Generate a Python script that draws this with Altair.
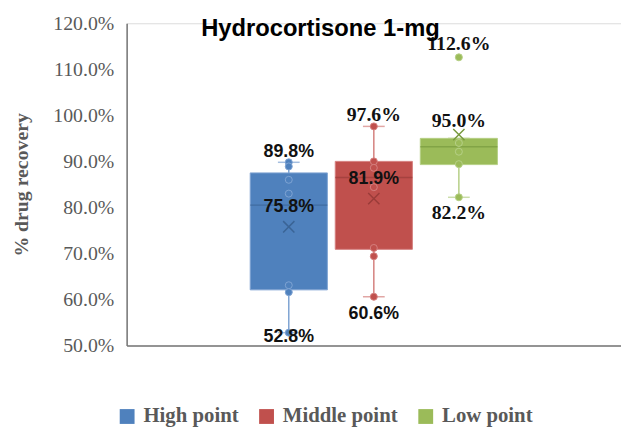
import altair as alt
import pandas as pd

# ---------------- data ----------------
groups = ["High point", "Middle point", "Low point"]
colors = ["#4F81BD", "#C0504D", "#9BBB59"]
dark_colors = ["#3A6496", "#9A3C39", "#789A3E"]
light_colors = ["#7EA3D2", "#D4807E", "#B5CF86"]

whisker_lo = [52.8, 60.6, 82.2]
q1 = [62.1, 70.9, 89.3]
median = [80.5, 86.5, 93.2]
q3 = [87.5, 90.0, 95.0]
whisker_hi = [89.8, 97.6, 95.0]
mean = [75.8, 81.9, 95.8]

high_points = [89.8, 88.9, 86.0, 83.0, 63.1, 61.6, 52.8]
middle_points = [97.6, 90.0, 88.6, 84.4, 71.2, 69.4, 60.6]
low_points = [112.6, 94.0, 92.1, 89.4, 82.2]

label_group = ["High point"] * 3 + ["Middle point"] * 3 + ["Low point"] * 3
label_text = ["89.8%", "75.8%", "52.8%", "97.6%", "81.9%", "60.6%", "112.6%", "95.0%", "82.2%"]
label_anchor = [whisker_hi[0], median[0], whisker_lo[0],
                whisker_hi[1], median[1], whisker_lo[1],
                low_points[0], q3[2], whisker_lo[2]]
label_dy = [-10, 2, 4, -11, 2, 18, -13, -17, 16]
label_serif = [False, False, False, True, False, False, True, True, True]

title_text = "Hydrocortisone 1-mg"
y_ticks = [50, 60, 70, 80, 90, 100, 110, 120]

stats = pd.DataFrame({"group": groups, "lo": whisker_lo, "q1": q1, "med": median,
                      "q3": q3, "hi": whisker_hi, "mean": mean})
points = pd.DataFrame({
    "group": ["High point"] * len(high_points) + ["Middle point"] * len(middle_points)
             + ["Low point"] * len(low_points),
    "value": high_points + middle_points + low_points,
})
labels = pd.DataFrame({"idx": list(range(len(label_text))), "group": label_group,
                       "text": label_text, "anchor": label_anchor})

# ---------------- scales / axes ----------------
AX_COLOR = "#767676"
# empty slots on either side so the category group sits in the middle of the plot
x_domain = ["_left"] + groups + ["_right"]
x_scale = alt.Scale(domain=x_domain, type="band", paddingInner=0.093, paddingOuter=0.453)
x_axis = alt.Axis(labels=False, ticks=False, title=None, grid=False,
                  domainColor=AX_COLOR, domainWidth=1.5)
y_scale = alt.Scale(domain=[50, 120], nice=False, zero=False)
y_axis = alt.Axis(values=y_ticks, labelExpr="format(datum.value, '.1f') + '%'",
                  title="% drug recovery", titleFont="Liberation Serif", titleFontSize=20,
                  titleFontWeight="bold", titleColor="#595959", titleX=-106, titleY=163,
                  titleAngle=270, titleAlign="center", titleBaseline="middle",
                  labelFont="Liberation Serif", labelFontSize=20, labelColor="#595959",
                  labelPadding=13, ticks=False, grid=False,
                  domainColor=AX_COLOR, domainWidth=1.5)


def X(center=True):
    if center:
        return alt.X("group:N", scale=x_scale, axis=x_axis, bandPosition=0.5)
    return alt.X("group:N", scale=x_scale, axis=x_axis)


def Y(field):
    return alt.Y(field, scale=y_scale, axis=y_axis)


def C(rng):
    return alt.Color("group:N", scale=alt.Scale(domain=groups, range=rng), legend=None)


base = alt.Chart(stats)

whisk_low = base.mark_rule(strokeWidth=1.5).encode(x=X(), y=Y("lo:Q"), y2="q1:Q", color=C(light_colors))
whisk_high = base.mark_rule(strokeWidth=1.5).encode(x=X(), y=Y("q3:Q"), y2="hi:Q", color=C(light_colors))
cap_low = base.mark_tick(orient="horizontal", size=22, thickness=1.5).encode(
    x=X(), y=Y("lo:Q"), color=C(light_colors))
cap_high = base.mark_tick(orient="horizontal", size=22, thickness=1.5).encode(
    x=X(), y=Y("hi:Q"), color=C(light_colors))

box = base.mark_bar(strokeWidth=1, opacity=1).encode(
    x=X(False), y=Y("q1:Q"), y2="q3:Q",
    color=alt.Color("group:N", scale=alt.Scale(domain=groups, range=colors),
                    legend=alt.Legend(orient="none", legendX=-10, legendY=387,
                                      direction="horizontal", title=None,
                                      symbolType="square", symbolSize=225,
                                      symbolStrokeWidth=0, labelFont="Liberation Serif",
                                      labelFontSize=21, labelFontWeight="bold",
                                      labelColor="#595959", labelOffset=6,
                                      columnPadding=17, labelLimit=300)),
    stroke=alt.Stroke("group:N", scale=alt.Scale(domain=groups, range=light_colors), legend=None),
)

med = base.mark_tick(orient="horizontal", size=78, thickness=1.5).encode(
    x=X(), y=Y("med:Q"), color=C(dark_colors))

pts = alt.Chart(points).mark_point(shape="circle", filled=True, size=50, opacity=1,
                                   strokeWidth=1).encode(
    x=X(), y=Y("value:Q"),
    fill=alt.Fill("group:N", scale=alt.Scale(domain=groups, range=colors), legend=None),
    stroke=alt.Stroke("group:N", scale=alt.Scale(domain=groups, range=light_colors), legend=None))

mean_x = base.mark_point(shape="M-1,-1L1,1M1,-1L-1,1", filled=False, size=130,
                         strokeWidth=1.5, opacity=1).encode(
    x=X(), y=Y("mean:Q"), color=C(dark_colors))

layers = [whisk_low, whisk_high, cap_low, cap_high, box, med, pts, mean_x]

for i in range(len(label_text)):
    if label_serif[i]:
        mk = dict(font="Liberation Serif", fontSize=20, fontWeight="bold")
    else:
        mk = dict(font="Liberation Sans", fontSize=18, fontWeight="bold")
    layers.append(
        alt.Chart(labels).transform_filter(alt.datum.idx == i).mark_text(
            align="center", baseline="middle", dy=label_dy[i], color="#111111", **mk
        ).encode(x=X(), y=Y("anchor:Q"), text="text:N")
    )

title = alt.Chart(pd.DataFrame({"t": [title_text]})).mark_text(
    font="Liberation Sans", fontSize=24, fontWeight="bold", color="#000000",
    align="center", baseline="alphabetic"
).encode(text="t:N", x=alt.value(196), y=alt.value(13))
layers.append(title)

chart = alt.layer(*layers).resolve_scale(
    color="independent", fill="independent", stroke="independent"
).properties(
    width=500, height=326,
    autosize=alt.AutoSizeParams(type="none"),
    padding={"left": 120, "top": 13, "right": 0, "bottom": 85},
).configure_view(stroke=None).configure(background="white")

chart.save("out.html", embed_options={"renderer": "svg", "actions": False})
